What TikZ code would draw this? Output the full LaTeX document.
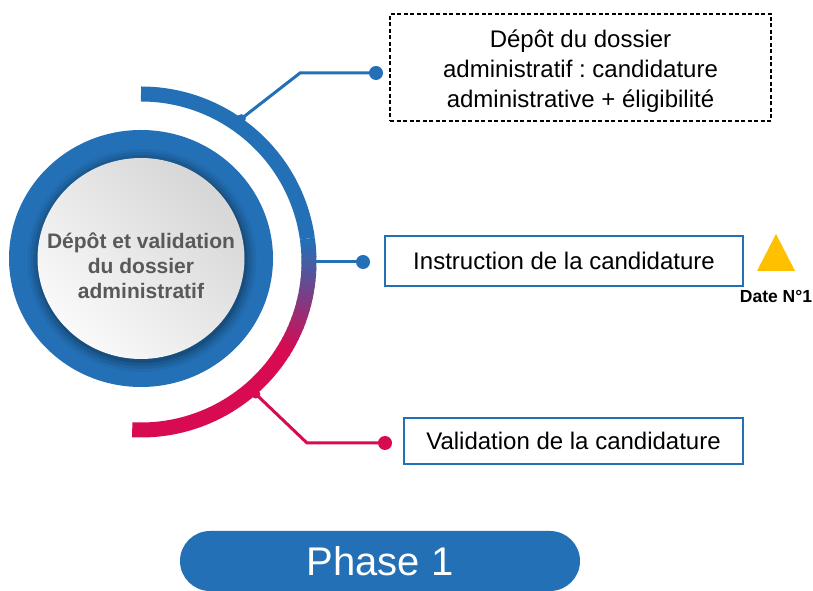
\documentclass[tikz,border=0pt]{standalone}
\usepackage{fontspec}
\setmainfont{Liberation Sans}
\frenchspacing
\usetikzlibrary{calc}
\definecolor{blu}{HTML}{2370B7}
\definecolor{crim}{HTML}{D70A52}
\definecolor{gold}{HTML}{FFC000}
\definecolor{txtgrey}{HTML}{595959}
\begin{document}
\begin{tikzpicture}[x=1pt,y=1pt,
  boxtext/.style={font=\fontsize{24}{30}\selectfont, align=center, inner sep=0pt},
  solidbox/.style={boxtext, draw=blu, line width=2pt},
  dot/.style={circle, inner sep=0pt, minimum size=14pt},
  conn/.style={line width=3pt},
  arcline/.style={line width=15pt}]
\useasboundingbox (0,0) rectangle (813,591);
\coordinate (C) at (141,329);
\coordinate (R) at (141,332.5);
% ring
\fill[blu] (R) ellipse[x radius=132pt, y radius=128.5pt];
\foreach \r/\o in {11/0.05,8/0.07,5/0.09,2/0.12}
  \fill[black,opacity=\o] ($(R)+(1,-2)$) ellipse[x radius=103.5pt+\r pt, y radius=100.5pt+\r pt];
\shade[top color=black!16, bottom color=black!2, shading angle=-45] (R) ellipse[x radius=103.5pt, y radius=100.5pt];
\node[font=\bfseries\fontsize{21}{25}\selectfont, text=txtgrey, align=center] (core) at (141,325)
  {Dépôt et validation\\du dossier\\administratif};
% outer arc
\draw[blu, arcline] (C) ++(90:168pt) arc[start angle=90, end angle=8, radius=168pt];
\foreach \i in {0,...,19} {
  \pgfmathsetmacro\a{8-2*\i}
  \pgfmathtruncatemacro\p{100*\i/19}
  \colorlet{cur}{crim!\p!blu}
  \draw[cur, arcline] (C) ++(\a:168pt) arc[start angle=\a, end angle=\a-2.4, radius=168pt];
}
\draw[crim, arcline] (C) ++(-32:168pt) arc[start angle=-32, end angle=-93, radius=168pt];
% connectors
\coordinate (j1) at ($(C)+(55:175pt)$);
\coordinate (b1) at (300,518);
\node[dot, fill=blu] (d1) at (376,518) {};
\draw[blu, conn] (j1) -- (b1) -- (d1.center);
\fill[blu] (j1) circle[radius=4.5pt];
\coordinate (j2) at ($(C)+(0:175pt)$);
\node[dot, fill=blu] (d2) at (363,329) {};
\draw[blu, conn] (j2) -- (d2.center);
\coordinate (j3) at ($(C)+(-49:175pt)$);
\coordinate (b3) at (307,148);
\node[dot, fill=crim] (d3) at (385,148) {};
\draw[crim, conn] (j3) -- (b3) -- (d3.center);
\fill[crim] (j3) circle[radius=4.5pt];
% boxes
\node[draw=black, line width=1.2pt, dash pattern=on 4pt off 2.5pt, inner sep=0pt,
  minimum width=381pt, minimum height=107pt] (box1) at (580.5,523.5) {};
\node[boxtext] (box1text) at ($(box1.center)+(0,-4)$)
  {Dépôt du dossier\\administratif : candidature\\administrative + éligibilité};
\node[solidbox, minimum width=358pt, minimum height=50pt] (box2) at (564,330)
  {Instruction de la candidature};
\node[solidbox, minimum width=339pt, minimum height=46pt] (box3) at (573.5,150)
  {Validation de la candidature};
% milestone
\fill[gold] (757,320) -- (776,357) -- (795,320) -- cycle;
\node[font=\bfseries\fontsize{17.5}{20}\selectfont] (date) at (776,294) {Date N°1};
% phase pill
\node[fill=blu, rounded corners=30pt, minimum width=400pt, minimum height=60pt,
  text=white, font=\fontsize{40}{48}\selectfont] (phase) at (380,30) {Phase 1};
\end{tikzpicture}
\end{document}
